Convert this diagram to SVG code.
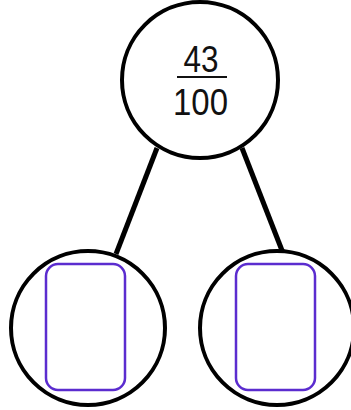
<svg xmlns="http://www.w3.org/2000/svg" width="351" height="410" viewBox="0 0 351 410">
<style>
.c{fill:#fff;stroke:#000;stroke-width:4}
.b{fill:none;stroke:#5b2ccf;stroke-width:2.5}
.e{stroke:#000;stroke-width:5;stroke-linecap:butt}
.t{font-family:"Liberation Sans",Arial,sans-serif;font-size:37px;fill:#111;text-anchor:middle}
</style>
<rect width="351" height="410" fill="#fff"/>
<g id="connectors">
<line class="e" x1="157" y1="148" x2="116" y2="254"/>
<line class="e" x1="242" y1="148" x2="283" y2="253"/>
</g>
<g id="top">
<circle class="c" cx="200" cy="80" r="78"/>
<text class="t" x="201" y="72" textLength="35" lengthAdjust="spacingAndGlyphs">43</text>
<line x1="177" y1="77" x2="227" y2="77" stroke="#111" stroke-width="2.2"/>
<text class="t" x="200.5" y="115" textLength="55" lengthAdjust="spacingAndGlyphs">100</text>
</g>
<g id="left">
<circle class="c" cx="88" cy="328" r="77"/>
<rect class="b" x="46" y="264" width="79" height="126" rx="12"/>
</g>
<g id="right">
<circle class="c" cx="277" cy="328" r="77"/>
<rect class="b" x="236" y="264" width="79" height="126" rx="12"/>
</g>
</svg>
